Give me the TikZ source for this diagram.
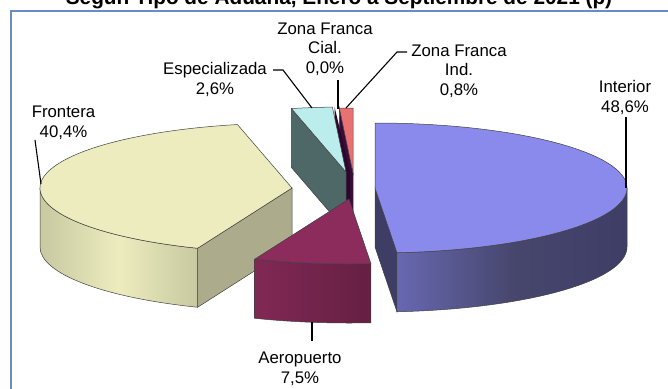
\documentclass[tikz,border=0pt]{standalone}
\usepackage{fontspec}
\setmainfont{Liberation Sans}
\usetikzlibrary{calc}
\definecolor{frameblue}{HTML}{6A8CC6}
\definecolor{interiortop}{HTML}{8A8AEC}
\definecolor{interiorside}{HTML}{3D3D66}
\definecolor{fronteratop}{HTML}{ECECBE}
\definecolor{fronteraside}{HTML}{ACAC8C}
\definecolor{aerotop}{HTML}{8C2C5C}
\definecolor{esptop}{HTML}{BCEDED}
\definecolor{espside}{HTML}{4E6767}
\definecolor{indtop}{HTML}{E87272}
\definecolor{indside}{HTML}{3B0B3B}
\definecolor{cialside}{HTML}{2B082B}
\tikzstyle{slicetext} = [align=center, inner sep=0pt, anchor=base, font=\fontsize{16.8}{19.5}\selectfont]
\tikzstyle{charttitle} = [inner sep=0pt, anchor=base, font=\bfseries\fontsize{20.8}{24}\selectfont]
\tikzstyle{leader} = [draw, line width=1.1pt]
\tikzstyle{edge} = [draw=black!75, line width=0.5pt]
\tikzstyle{frame} = [draw=frameblue, line width=2.2pt]
\tikzstyle{rim} = [x radius=252pt, y radius=65pt]

\begin{document}
\begin{tikzpicture}[x=1pt, y=1pt]
    \useasboundingbox (0,0) rectangle (668,-388);
    \path [frame] (11.3,-395) -- (11.3,-11.3) -- (675,-11.3);
    \node [charttitle] (title) at (339,-5) {Según Tipo de Aduana, Enero a Septiembre de 2021 (p)};

    \coordinate (interior-apex) at (375,-188);
    \coordinate (frontera-apex) at (292,-188);
    \coordinate (aero-apex) at (349,-199);
    \coordinate (esp-apex) at (346,-172);
    \coordinate (ind-apex) at (353,-173);
    \coordinate (cial-apex) at (350,-172);

    % zona franca ind.
    \path [edge, fill=indside] (ind-apex) -- ($(ind-apex)+(93.1:252pt and 65pt)$) -- ++(0,-59)
        -- ($(ind-apex)+(0,-59)$) -- cycle;
    \path [edge, fill=indtop] (ind-apex) -- ($(ind-apex)+(93.1:252pt and 65pt)$)
        arc[rim, start angle=93.1, end angle=90] -- cycle;
    % zona franca cial.
    \path [fill=cialside] (cial-apex) -- ($(cial-apex)+(93.5:252pt and 65pt)$) -- ++(0,-59)
        -- ($(cial-apex)+(0,-59)$) -- cycle;
    % especializada
    \path [edge, fill=espside] (esp-apex) -- ($(esp-apex)+(102.5:252pt and 65pt)$) -- ++(0,-59)
        -- ($(esp-apex)+(0,-59)$) -- cycle;
    \path [edge, fill=esptop] (esp-apex) -- ($(esp-apex)+(102.5:252pt and 65pt)$)
        arc[rim, start angle=102.5, end angle=93.1] -- cycle;
    % frontera
    \path [edge, fill=fronteraside] (frontera-apex) -- ($(frontera-apex)+(-112:252pt and 65pt)$) -- ++(0,-59)
        -- ($(frontera-apex)+(0,-59)$) -- cycle;
    \path [edge, left color=fronteratop!85!black, right color=fronteratop!85!black, middle color=fronteratop]
        ($(frontera-apex)+(-180:252pt and 65pt)$)
        arc[rim, start angle=-180, end angle=-112] -- ++(0,-59)
        arc[rim, start angle=-112, end angle=-180] -- cycle;
    \path [edge, fill=fronteratop] (frontera-apex) -- ($(frontera-apex)+(-112:252pt and 65pt)$)
        arc[rim, start angle=-112, end angle=-257.5] -- cycle;
    % interior
    \path [edge, fill=interiorside] (interior-apex) -- ($(interior-apex)+(-85:252pt and 65pt)$) -- ++(0,-59)
        -- ($(interior-apex)+(0,-59)$) -- cycle;
    \path [edge, left color=interiortop!75!black, right color=interiorside, middle color=interiorside!95!white]
        ($(interior-apex)+(0:252pt and 65pt)$)
        arc[rim, start angle=0, end angle=-85] -- ++(0,-59)
        arc[rim, start angle=-85, end angle=0] -- cycle;
    \path [edge, fill=interiortop] (interior-apex) -- ($(interior-apex)+(90:252pt and 65pt)$)
        arc[rim, start angle=90, end angle=-85] -- cycle;
    % aeropuerto
    \path [edge, left color=aerotop!92!black, right color=aerotop!72!black]
        ($(aero-apex)+(-112:252pt and 65pt)$)
        arc[rim, start angle=-112, end angle=-85] -- ++(0,-59)
        arc[rim, start angle=-85, end angle=-112] -- cycle;
    \path [edge, fill=aerotop] (aero-apex) -- ($(aero-apex)+(-85:252pt and 65pt)$)
        arc[rim, start angle=-85, end angle=-112] -- cycle;

    \node [slicetext] (interior-text) at (625,-112) {Interior\\48,6\%};
    \node [slicetext] (frontera-text) at (63.5,-137) {Frontera\\40,4\%};
    \node [slicetext] (esp-text) at (215,-94) {Especializada\\2,6\%};
    \node [slicetext] (cial-text) at (325,-73) {Zona Franca\\Cial.\\0,0\%};
    \node [slicetext] (ind-text) at (459,-95) {Zona Franca\\Ind.\\0,8\%};
    \node [slicetext] (aero-text) at (300,-383) {Aeropuerto\\7,5\%};

    \coordinate (interior-end) at (626,-117);
    \coordinate (interior-tip) at (626,-188);
    \coordinate (frontera-end) at (35,-140);
    \coordinate (frontera-tip) at (41,-184);
    \coordinate (esp-end) at (273,-70);
    \coordinate (esp-bend) at (283,-70);
    \coordinate (esp-tip) at (312,-108);
    \coordinate (cial-end) at (338,-80);
    \coordinate (cial-tip) at (338,-109);
    \coordinate (ind-end) at (407,-52);
    \coordinate (ind-bend) at (397,-52);
    \coordinate (ind-tip) at (346,-108);
    \coordinate (aero-end) at (312,-341);
    \coordinate (aero-tip) at (312,-322);

    \path [leader] (interior-end) -- (interior-tip);
    \path [leader] (frontera-end) -- (frontera-tip);
    \path [leader] (esp-end) -- (esp-bend) -- (esp-tip);
    \path [leader] (cial-end) -- (cial-tip);
    \path [leader] (ind-end) -- (ind-bend) -- (ind-tip);
    \path [leader] (aero-end) -- (aero-tip);
\end{tikzpicture}
\end{document}
